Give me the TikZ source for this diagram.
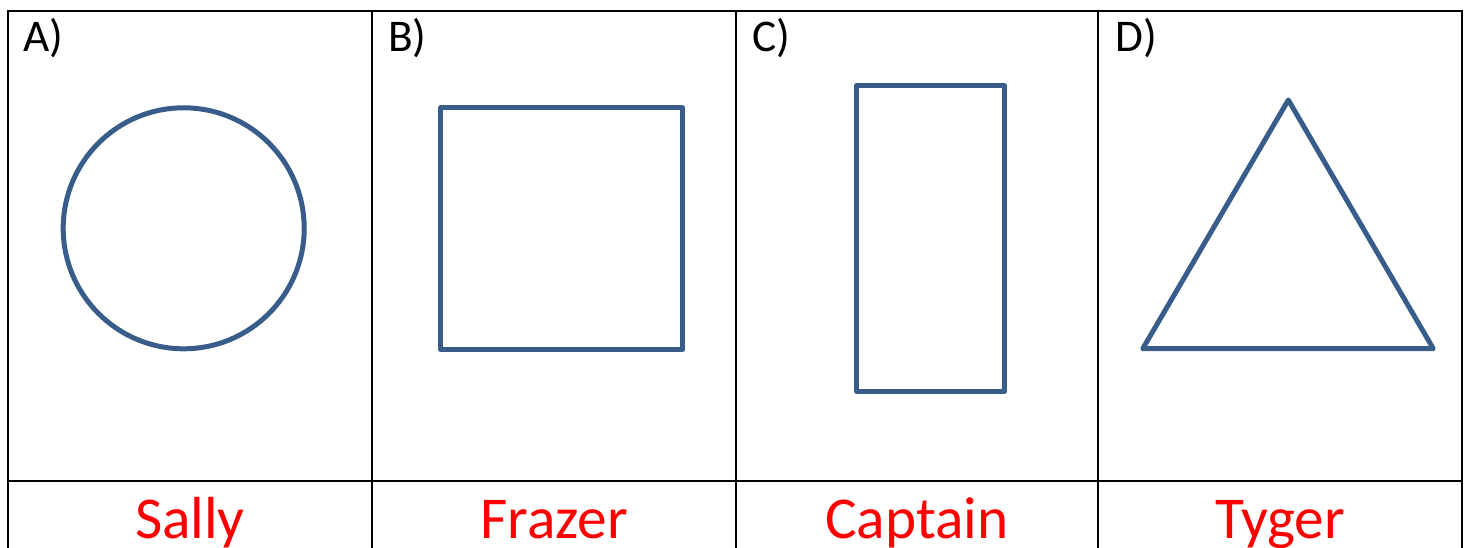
\documentclass[tikz,border=0pt]{standalone}
\usepackage{fontspec}
\setmainfont{Carlito}
\definecolor{shapeblue}{HTML}{385D8A}
\definecolor{namered}{HTML}{FF0000}
\begin{document}
\begin{tikzpicture}[x=0.75pt,y=-0.75pt,
  gridline/.style={line width=1.5pt,black},
  outline/.style={draw=shapeblue,line width=3.75pt,line join=round,line cap=round},
  letterlabel/.style={anchor=base west,inner sep=0pt,font=\fontsize{34}{40}\selectfont},
  namelabel/.style={anchor=base,inner sep=0pt,text=namered,font=\fontsize{44.5}{52}\selectfont}]
\useasboundingbox (0,0) rectangle (1469,548);
% grid
\draw[gridline] (8,560) -- (8,11) -- (1462,11) -- (1462,560);
\draw[gridline] (8,481) -- (1462,481);
\foreach \x in {372,736,1098} \draw[gridline] (\x,11) -- (\x,560);
% labels
\node[letterlabel] (la) at (23,52) {A)};
\node[letterlabel] (lb) at (388,52) {B)};
\node[letterlabel] (lc) at (752,52) {C)};
\node[letterlabel] (ld) at (1115,52) {D)};
% names
\node[namelabel] (na) at (190,538) {Sally};
\node[namelabel] (nb) at (554,538) {Frazer};
\node[namelabel] (nc) at (917,538) {Captain};
\node[namelabel] (nd) at (1280,538) {Tyger};
% shapes
\draw[outline] (183.7,228.3) circle[radius=120.5];
\draw[outline] (440.5,108) rectangle (682.5,349.5);
\draw[outline] (856.7,85.8) rectangle (1004.3,391.5);
\draw[outline] (1288.3,100) -- (1433.3,348.7) -- (1142.7,348.7) -- cycle;
\end{tikzpicture}
\end{document}
